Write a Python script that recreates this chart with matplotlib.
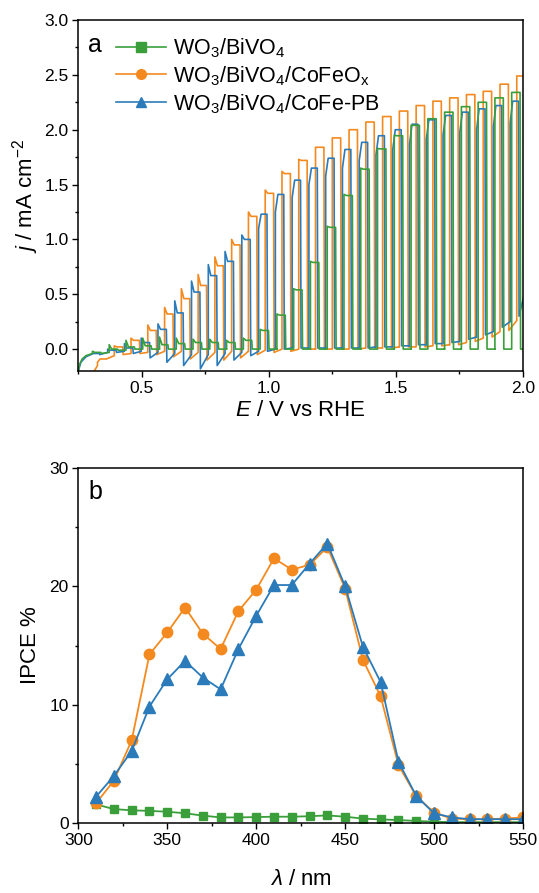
import numpy as np
import matplotlib.pyplot as plt
from matplotlib.lines import Line2D
from matplotlib.ticker import MultipleLocator, FormatStrFormatter

plt.rcParams['font.family'] = ['Liberation Sans', 'DejaVu Sans']
plt.rcParams['mathtext.fontset'] = 'custom'
plt.rcParams['mathtext.rm'] = 'Liberation Sans'
plt.rcParams['mathtext.it'] = 'Liberation Sans:italic'

labels = ['WO$_3$/BiVO$_4$', 'WO$_3$/BiVO$_4$/CoFeO$_\\mathrm{x}$', 'WO$_3$/BiVO$_4$/CoFe-PB']
colors = ['#3a9f3a', '#f48a1f', '#2b7bba']
markers = ['s', 'o', '^']

# ---- panel a: chopped-light LSV, one value per chop ----
chop_period = 0.066  # V per light on/off cycle
first_on = {'bare': 0.3055, 'cofeox': 0.2595, 'cofepb': 0.2995}

# lead-in before the first chop
bare_lead_e = [0.25, 0.255, 0.265, 0.28, 0.3055]
bare_lead_j = [-0.20, -0.14, -0.09, -0.06, -0.04]
cofepb_lead_e = [0.25, 0.26, 0.28, 0.2995]
cofepb_lead_j = [-0.20, -0.12, -0.07, -0.05]
cofeox_lead_e = [0.25, 0.2595]
cofeox_lead_j = [-0.40, -0.36]

# WO3/BiVO4
bare_spike = [-0.02, 0.04, 0.08, 0.10, 0.11, 0.10, 0.09, 0.09, 0.08, 0.10, 0.18, 0.32,
              0.55, 0.80, 1.12, 1.41, 1.65, 1.83, 1.95, 2.04, 2.10, 2.16, 2.21, 2.25, 2.29, 2.34]
bare_light = [-0.03, 0.00, 0.02, 0.03, 0.04, 0.05, 0.06, 0.06, 0.06, 0.08, 0.17, 0.31,
              0.54, 0.79, 1.11, 1.40, 1.64, 1.825, 1.945, 2.04, 2.10, 2.16, 2.21, 2.25, 2.29, 2.34]
bare_dip = [-0.04, -0.01, 0.0, 0.0, 0.0, 0.0, 0.0, 0.0, 0.0, 0.0, 0.0, 0.0,
            0.0, 0.0, 0.0, 0.0, 0.0, 0.0, 0.0, 0.0, 0.0, 0.0, 0.0, 0.0, 0.0, 0.0]
bare_dark = [-0.03, -0.01, 0.0, 0.0, 0.0, 0.0, 0.0, 0.0, 0.0, 0.0, 0.0, 0.0,
             0.0, 0.0, 0.0, 0.0, 0.0, 0.0, 0.0, 0.0, 0.0, 0.0, 0.0, 0.0, 0.0, 0.0]

# WO3/BiVO4/CoFeOx
cofeox_spike = [-0.32, -0.12, 0.03, 0.10, 0.22, 0.38, 0.55, 0.68, 0.84, 1.00, 1.25, 1.45, 1.62,
                1.73, 1.84, 1.925, 2.00, 2.07, 2.12, 2.17, 2.22, 2.26, 2.29, 2.32, 2.35, 2.415, 2.49]
cofeox_light = [-0.28, -0.09, 0.02, 0.08, 0.17, 0.32, 0.46, 0.58, 0.76, 0.95, 1.21, 1.42, 1.60,
                1.72, 1.84, 1.925, 2.00, 2.07, 2.12, 2.17, 2.22, 2.26, 2.29, 2.32, 2.35, 2.415, 2.49]
cofeox_dip = [-0.27, -0.09, -0.05, -0.04, -0.05, -0.07, -0.09, -0.10, -0.10, -0.08, -0.05, -0.03, -0.02,
              0.0, 0.0, 0.0, 0.0, 0.01, 0.01, 0.02, 0.02, 0.03, 0.04, 0.07, 0.11, 0.17, 0.30]
cofeox_dark = [-0.15, -0.06, -0.04, -0.03, -0.02, -0.02, -0.03, -0.03, -0.02, -0.02, -0.01, 0.0, 0.0,
               0.0, 0.0, 0.0, 0.01, 0.01, 0.02, 0.02, 0.03, 0.04, 0.06, 0.10, 0.16, 0.26, 0.55]

# WO3/BiVO4/CoFe-PB
cofepb_spike = [-0.05, 0.00, 0.05, 0.10, 0.23, 0.44, 0.62, 0.77, 0.89, 1.04, 1.10, 1.25,
                1.38, 1.50, 1.58, 1.65, 1.72, 1.77, 1.82, 1.87, 1.91, 1.95, 1.98, 2.00, 2.03, 2.06]
cofepb_light = [-0.04, -0.01, 0.01, 0.06, 0.18, 0.33, 0.52, 0.67, 0.80, 1.00, 1.23, 1.41,
                1.54, 1.65, 1.74, 1.82, 1.885, 1.945, 2.00, 2.05, 2.09, 2.13, 2.16, 2.19, 2.22, 2.26]
cofepb_dip = [-0.05, -0.03, -0.04, -0.08, -0.12, -0.15, -0.18, -0.15, -0.10, -0.06, -0.02, 0.0,
              0.01, 0.01, 0.01, 0.01, 0.01, 0.02, 0.03, 0.04, 0.05, 0.06, 0.09, 0.13, 0.20, 0.30]
cofepb_dark = [-0.03, -0.02, -0.02, -0.03, -0.04, -0.05, -0.05, -0.04, -0.03, -0.02, 0.0, 0.01,
               0.01, 0.01, 0.01, 0.01, 0.02, 0.02, 0.03, 0.04, 0.05, 0.07, 0.11, 0.16, 0.25, 0.60]

# ---- panel b: IPCE ----
wavelength = [310, 320, 330, 340, 350, 360, 370, 380, 390, 400, 410, 420, 430,
              440, 450, 460, 470, 480, 490, 500, 510, 520, 530, 540, 550]
ipce_bare = [1.6, 1.2, 1.1, 1.05, 0.98, 0.85, 0.65, 0.5, 0.5, 0.53, 0.56, 0.56, 0.6,
             0.67, 0.56, 0.4, 0.33, 0.28, 0.2, 0.14, 0.1, 0.1, 0.1, 0.1, 0.1]
ipce_cofeox = [1.7, 3.6, 7.0, 14.25, 16.1, 18.2, 16.0, 14.7, 17.9, 19.7, 22.35, 21.4, 21.8,
               23.3, 19.8, 13.8, 10.7, 4.9, 2.3, 0.9, 0.4, 0.35, 0.35, 0.4, 0.5]
ipce_cofepb = [2.25, 4.0, 6.1, 9.85, 12.15, 13.7, 12.3, 11.3, 14.7, 17.5, 20.1, 20.1, 21.9,
               23.6, 20.0, 14.9, 11.9, 5.2, 2.3, 0.85, 0.5, 0.35, 0.35, 0.35, 0.35]


def chopped(e0, lead_e, lead_j, spike, light, dip, dark):
    """Build square-wave trace from per-chop readings"""
    e, j = list(lead_e), list(lead_j)
    half = chop_period / 2
    prev = lead_j[-1]
    for k in range(len(light)):
        on = e0 + k * chop_period
        off = on + half
        e += [on, on, on + 0.3 * half, off, off + 0.002, on + chop_period]
        j += [prev, spike[k], light[k], light[k], dip[k], dark[k]]
        prev = dark[k]
    return e, j


fig = plt.figure(figsize=(5.39, 8.93), dpi=100)
ax1 = fig.add_axes([0.1453, 0.5845, 0.8250, 0.3931])
ax2 = fig.add_axes([0.1453, 0.0780, 0.8250, 0.3983])

traces = [
    ('cofeox', cofeox_lead_e, cofeox_lead_j, cofeox_spike, cofeox_light, cofeox_dip, cofeox_dark, colors[1]),
    ('cofepb', cofepb_lead_e, cofepb_lead_j, cofepb_spike, cofepb_light, cofepb_dip, cofepb_dark, colors[2]),
    ('bare', bare_lead_e, bare_lead_j, bare_spike, bare_light, bare_dip, bare_dark, colors[0]),
]
for key, le, lj, sp, li, di, da, c in traces:
    e, j = chopped(first_on[key], le, lj, sp, li, di, da)
    ax1.plot(e, j, color=c, lw=1.2)

handles = [Line2D([], [], color=c, marker=m, ms=7, lw=1.2) for c, m in zip(colors, markers)]
ax1.legend(handles, labels, loc='upper left', bbox_to_anchor=(0.05, 0.997), frameon=False,
           fontsize=15.5, handlelength=2.35, handletextpad=0.3, labelspacing=0.2, borderpad=0.2)
ax1.text(0.022, 0.93, 'a', transform=ax1.transAxes, fontsize=18, va='center', ha='left')

ax1.set_xlim(0.25, 2.0)
ax1.set_ylim(-0.2, 3.0)
ax1.xaxis.set_major_locator(MultipleLocator(0.5))
ax1.xaxis.set_minor_locator(MultipleLocator(0.25))
ax1.yaxis.set_major_locator(MultipleLocator(0.5))
ax1.yaxis.set_minor_locator(MultipleLocator(0.25))
ax1.xaxis.set_major_formatter(FormatStrFormatter('%.1f'))
ax1.yaxis.set_major_formatter(FormatStrFormatter('%.1f'))
ax1.set_xlabel('$E$ / V vs RHE', fontsize=16, labelpad=3)
ax1.set_ylabel('$j$ / mA cm$^{-2}$', fontsize=16, labelpad=2)

ax2.plot(wavelength, ipce_bare, color=colors[0], marker='s', ms=6, lw=1.3)
ax2.plot(wavelength, ipce_cofeox, color=colors[1], marker='o', ms=7.5, lw=1.3)
ax2.plot(wavelength, ipce_cofepb, color=colors[2], marker='^', ms=8, lw=1.3)
ax2.text(0.022, 0.932, 'b', transform=ax2.transAxes, fontsize=18, va='center', ha='left')

ax2.set_xlim(300, 550)
ax2.set_ylim(0, 30)
ax2.xaxis.set_major_locator(MultipleLocator(50))
ax2.xaxis.set_minor_locator(MultipleLocator(25))
ax2.yaxis.set_major_locator(MultipleLocator(10))
ax2.yaxis.set_minor_locator(MultipleLocator(5))
ax2.set_xlabel('$\\lambda$ / nm', fontsize=16, labelpad=15)
ax2.set_ylabel('IPCE %', fontsize=16, labelpad=6)

for ax in (ax1, ax2):
    ax.tick_params(which='major', direction='out', length=4, width=1, labelsize=12.5,
                   top=False, right=False, pad=3)
    ax.tick_params(which='minor', direction='out', length=2.5, width=1, top=False, right=False)
    for s in ax.spines.values():
        s.set_linewidth(1.1)

fig.savefig('out.png', dpi=100)
